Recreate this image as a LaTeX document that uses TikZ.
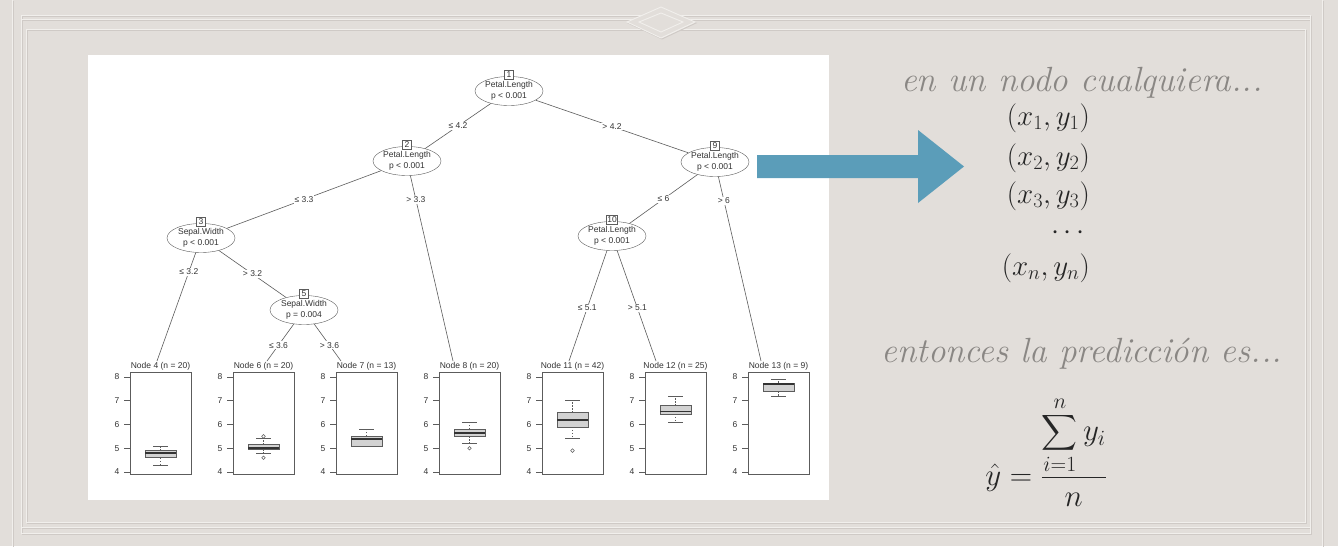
\RequirePackage{fix-cm}
\documentclass[tikz,border=0pt]{standalone}
\usepackage{amsmath}
\usepackage{fontspec}
\newfontfamily\treefont{Liberation Sans}
\usepackage{tikz}
\usetikzlibrary{shapes.geometric, positioning}
\definecolor{SlideBg}{HTML}{E2DEDA}
\definecolor{FrameLight}{HTML}{F1EFEC}
\definecolor{FrameShade}{HTML}{CFCAC6}
\definecolor{ArrowBlue}{HTML}{5B9DB9}
\definecolor{CaptionGray}{HTML}{8A8784}
\definecolor{TreeLine}{HTML}{5C5C5C}
\definecolor{TreeText}{HTML}{333333}
\definecolor{BoxFill}{HTML}{D2D2D2}
\tikzset{
  % Tree styles
  splitnode/.style={ellipse, draw=TreeLine, fill=white, inner sep=0pt, minimum width=68pt, minimum height=29pt, font=\treefont\fontsize{8.5}{10.5}\selectfont, text=TreeText, align=center},
  idbox/.style={rectangle, draw=TreeLine, fill=white, inner sep=0.8pt, minimum width=9pt, minimum height=8.5pt, font=\treefont\fontsize{8.5}{9}\selectfont, text=TreeText},
  edgelabel/.style={fill=white, inner sep=1pt, font=\treefont\fontsize{8.5}{9}\selectfont, text=TreeText},
  edge/.style={draw=TreeLine, line width=0.6pt},
  % Leaf styles
  leafpanel/.style={rectangle, draw=TreeLine, line width=0.6pt, anchor=north west, minimum width=61pt, minimum height=102pt, inner sep=0pt},
  leaftitle/.style={inner sep=0.5pt, font=\treefont\fontsize{8.5}{9}\selectfont, text=TreeText},
  ticklabel/.style={inner sep=0pt, font=\treefont\fontsize{8.5}{9}\selectfont, text=TreeText},
  axistick/.style={draw=TreeLine, line width=0.6pt},
  boxbody/.style={draw=TreeLine, fill=BoxFill, line width=0.6pt},
  medianline/.style={draw=TreeText, line width=1.6pt},
  whisker/.style={draw=TreeLine, line width=0.5pt, dashed, dash pattern=on 1.5pt off 1.5pt},
  whiskercap/.style={draw=TreeLine, line width=0.6pt},
  outlier/.style={draw=TreeLine, line width=0.5pt},
  % Text styles
  caption/.style={font=\fontsize{35}{40}\selectfont\itshape, text=CaptionGray, inner sep=0pt},
  pointtext/.style={font=\fontsize{29}{32}\selectfont, text=black!85, inner sep=0pt},
  formulatext/.style={font=\fontsize{31}{34}\selectfont, text=black!85, inner sep=0pt}
}
\begin{document}
\begin{tikzpicture}[x=1pt, y=-1pt]
  \useasboundingbox (0,0) rectangle (1338,546);
  \fill[SlideBg] (0,0) rectangle (1338,546);

  % frame
  \foreach \sh/\col in {1/FrameShade, 0/FrameLight} {
    \begin{scope}[shift={(\sh,\sh)}, line width=0.9pt]
      \draw[\col] (12,0) -- (12,546) (1322,0) -- (1322,546);
      \draw[\col] (21,15) rectangle (1310,533);
      \draw[\col] (26,29) rectangle (1305,522);
      \draw[\col] (21,19) -- (1310,19) (21,527) -- (1310,527);
    \end{scope}
  }
  \foreach \sh/\col in {1/FrameShade, 0/FrameLight} {
    \filldraw[fill=SlideBg, draw=\col, line width=0.9pt, shift={(\sh,\sh)}] (661,7) -- (695,22) -- (661,38) -- (627,22) -- cycle;
    \draw[draw=\col, line width=0.9pt, shift={(\sh,\sh)}] (661,13) -- (683,22) -- (661,32) -- (639,22) -- cycle;
  }

  % tree panel
  \fill[white] (88,55) rectangle (829,500);

  \node[splitnode] (n1) at (509,91) {Petal.Length\\p < 0.001};
  \node[splitnode] (n2) at (407,161) {Petal.Length\\p < 0.001};
  \node[splitnode] (n9) at (715,162) {Petal.Length\\p < 0.001};
  \node[splitnode] (n3) at (201,238) {Sepal.Width\\p < 0.001};
  \node[splitnode] (n10) at (612,236) {Petal.Length\\p < 0.001};
  \node[splitnode] (n5) at (304,310) {Sepal.Width\\p = 0.004};
  \foreach \k in {1,2,9,3,10,5}
    \node[idbox] (id\k) at ([yshift=1.5pt]n\k.north) {\k};

  \foreach \id/\cnt/\lx/\wlo/\qlo/\med/\qhi/\whi in {4/20/130/4.3/4.6/4.8/4.9/5.1, 6/20/233/4.8/4.95/5.0/5.15/5.4, 7/13/336/5.1/5.1/5.4/5.5/5.8, 8/20/439/5.2/5.5/5.65/5.8/6.1, 11/42/542/5.4/5.9/6.2/6.5/7.0, 12/25/645/6.1/6.45/6.55/6.8/7.2, 13/9/748/7.2/7.4/7.7/7.75/7.9} {
    \node[leafpanel] (leaf\id) at (\lx,372) {};
    \node[leaftitle] (title\id) at ({\lx+30.5},366) {Node \id\ (n = \cnt)};
    \begin{scope}[shift={(\lx,472)}, y=23.75pt]
      \foreach \val in {4,...,8} {
        \draw[axistick] (-6,\val-4) -- (0,\val-4);
        \node[ticklabel] at (-13,\val-4) {\val};
      }
      \draw[whisker] (30.5,\qhi-4) -- (30.5,\whi-4) (30.5,\qlo-4) -- (30.5,\wlo-4);
      \draw[whiskercap] (23,\whi-4) -- (38,\whi-4) (23,\wlo-4) -- (38,\wlo-4);
      \draw[boxbody] (15,\qlo-4) rectangle (46,\qhi-4);
      \draw[medianline] (15,\med-4) -- (46,\med-4);
    \end{scope}
  }
  \foreach \lx/\val in {233/5.5, 233/4.6, 439/5.0, 542/4.9}
    \draw[outlier] ({\lx+30.5},{472-(\val-4)*23.75}) circle (1.8);

  \coordinate (in4) at (157,361);
  \coordinate (in6) at (267,361);
  \coordinate (in7) at (341,361);
  \coordinate (in8) at (453,361);
  \coordinate (in11) at (569,361);
  \coordinate (in12) at (656,361);
  \coordinate (in13) at (761,361);

  \draw[edge] (n1) -- node[edgelabel] {≤ 4.2} (n2);
  \draw[edge] (n1) -- node[edgelabel] {> 4.2} (n9);
  \draw[edge] (n2) -- node[edgelabel] {≤ 3.3} (n3);
  \draw[edge] (n2) -- node[edgelabel, pos=0.13] {> 3.3} (in8);
  \draw[edge] (n3) -- node[edgelabel, pos=0.18] {≤ 3.2} (in4);
  \draw[edge] (n3) -- node[edgelabel] {> 3.2} (n5);
  \draw[edge] (n5) -- node[edgelabel, pos=0.57] {≤ 3.6} (in6);
  \draw[edge] (n5) -- node[edgelabel, pos=0.57] {> 3.6} (in7);
  \draw[edge] (n9) -- node[edgelabel] {≤ 6} (n10);
  \draw[edge] (n9) -- node[edgelabel, pos=0.13] {> 6} (in13);
  \draw[edge] (n10) -- node[edgelabel, pos=0.52] {≤ 5.1} (in11);
  \draw[edge] (n10) -- node[edgelabel, pos=0.52] {> 5.1} (in12);

  % arrow
  \fill[ArrowBlue] (757,155) -- (918,155) -- (918,130) -- (964,166.5) -- (918,203) -- (918,178) -- (757,178) -- cycle;

  % right side
  \node[caption, anchor=base] (headline) at (1082,91) {en un nodo cualquiera...};
  \node[pointtext, anchor=east] (pt1) at (1090,118) {$(x_1, y_1)$};
  \node[pointtext, anchor=east] (pt2) at (1090,158) {$(x_2, y_2)$};
  \node[pointtext, anchor=east] (pt3) at (1090,196) {$(x_3, y_3)$};
  \node[pointtext, anchor=east] (dots) at (1090,233) {$\cdots$};
  \node[pointtext, anchor=east] (ptn) at (1090,268) {$(x_n, y_n)$};
  \node[caption, anchor=base] (predline) at (1082,362) {entonces la predicción es...};
  \node[formulatext, anchor=base] (formula) at (1046,485) {$\displaystyle \hat{y} = \frac{\displaystyle\sum_{i=1}^{n} y_i}{n}$};
\end{tikzpicture}
\end{document}
